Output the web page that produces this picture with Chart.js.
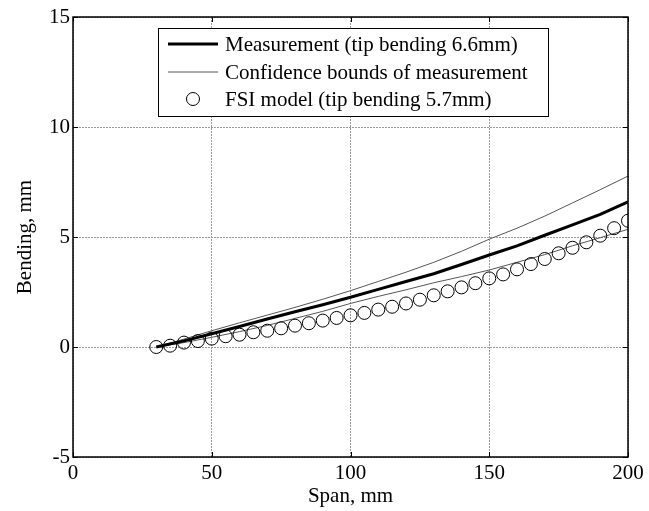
<!DOCTYPE html>
<html>
<head>
<meta charset="utf-8">
<script src="https://cdn.jsdelivr.net/npm/chart.js@4/dist/chart.umd.min.js"></script>
<style>
  html, body { margin: 0; padding: 0; background: #fff; }
  #wrap { width: 649px; height: 511px; }
</style>
</head>
<body>
<div id="wrap"><canvas id="chart" width="649" height="511"></canvas></div>
<script>
// measurement curves, sampled every 10 mm of span
const spans = [30, 40, 50, 60, 70, 80, 90, 100, 110, 120, 130, 140, 150, 160, 170, 180, 190, 200];
const measured = [0, 0.28, 0.60, 0.93, 1.27, 1.60, 1.92, 2.26, 2.62, 2.98, 3.33, 3.75, 4.18, 4.60, 5.08, 5.55, 6.03, 6.60];
const upperBound = [0, 0.36, 0.74, 1.10, 1.45, 1.80, 2.17, 2.56, 2.98, 3.40, 3.85, 4.35, 4.90, 5.40, 5.95, 6.55, 7.15, 7.77];
const lowerBound = [0, 0.20, 0.44, 0.70, 0.98, 1.30, 1.62, 1.98, 2.30, 2.60, 2.92, 3.20, 3.50, 3.85, 4.20, 4.60, 4.97, 5.35];

// FSI model points, every 5 mm
const fsiSpans = [30, 35, 40, 45, 50, 55, 60, 65, 70, 75, 80, 85, 90, 95, 100, 105, 110, 115,
                  120, 125, 130, 135, 140, 145, 150, 155, 160, 165, 170, 175, 180, 185, 190, 195, 200];
const fsiBending = [0, 0.06, 0.20, 0.27, 0.38, 0.49, 0.56, 0.67, 0.74, 0.85, 0.97, 1.08, 1.20, 1.32, 1.44, 1.55, 1.70, 1.83,
                    1.98, 2.15, 2.35, 2.53, 2.71, 2.90, 3.12, 3.30, 3.53, 3.77, 4.00, 4.26, 4.51, 4.76, 5.06, 5.40, 5.74];

const xTicks = [0, 50, 100, 150, 200];
const yTicks = [-5, 0, 5, 10, 15];

const labels = ['Measurement (tip bending 6.6mm)', 'Confidence bounds of measurement', 'FSI model (tip bending 5.7mm)'];

const serif = '"Liberation Serif", "Times New Roman", serif';

function pts(xs, ys) {
    return xs.map((x, i) => ({ x: x, y: ys[i] }));
}

// frame, inward ticks and boxed legend, drawn MATLAB style
const matlabBits = {
    id: 'matlabBits',
    afterDatasetsDraw(chart) {
        const ctx = chart.ctx;
        const a = chart.chartArea;
        const xs = chart.scales.x, ys = chart.scales.y;
        ctx.save();
        ctx.strokeStyle = '#000';
        ctx.lineWidth = 1;
        ctx.beginPath();
        xTicks.forEach(v => {
            const px = Math.round(xs.getPixelForValue(v)) + 0.5;
            ctx.moveTo(px, a.bottom); ctx.lineTo(px, a.bottom - 5);
            ctx.moveTo(px, a.top); ctx.lineTo(px, a.top + 5);
        });
        yTicks.forEach(v => {
            const py = Math.round(ys.getPixelForValue(v)) + 0.5;
            ctx.moveTo(a.left, py); ctx.lineTo(a.left + 5, py);
            ctx.moveTo(a.right, py); ctx.lineTo(a.right - 5, py);
        });
        ctx.stroke();
        ctx.lineWidth = 1.5;
        ctx.strokeRect(a.left, a.top, a.right - a.left, a.bottom - a.top);

        // legend
        const bx = 158, by = 28, bw = 390, bh = 88;
        ctx.fillStyle = '#fff';
        ctx.fillRect(bx, by, bw, bh);
        ctx.lineWidth = 1;
        ctx.strokeRect(bx + 0.5, by + 0.5, bw, bh);
        const rows = [44, 72, 99];
        const ds = chart.data.datasets;
        const entries = [ds[0], ds[1], ds[3]];
        ctx.font = '21px ' + serif;
        ctx.textBaseline = 'middle';
        entries.forEach((d, i) => {
            const y = rows[i];
            if (d.showLine) {
                ctx.strokeStyle = d.borderColor;
                ctx.lineWidth = d.borderWidth;
                ctx.beginPath();
                ctx.moveTo(168, y); ctx.lineTo(218, y);
                ctx.stroke();
            } else {
                ctx.strokeStyle = d.borderColor;
                ctx.lineWidth = 1;
                ctx.beginPath();
                ctx.arc(193, y, d.pointRadius, 0, Math.PI * 2);
                ctx.stroke();
            }
            ctx.fillStyle = '#000';
            ctx.fillText(labels[i], 225, y + 1);
        });
        ctx.restore();
    }
};

const config = {
    type: 'scatter',
    data: {
        datasets: [
            {
                label: labels[0],
                data: pts(spans, measured),
                showLine: true,
                borderColor: '#000',
                borderWidth: 3,
                pointRadius: 0,
                order: 1
            },
            {
                label: labels[1],
                data: pts(spans, upperBound),
                showLine: true,
                borderColor: '#555',
                borderWidth: 1,
                pointRadius: 0,
                order: 2
            },
            {
                label: labels[1],
                data: pts(spans, lowerBound),
                showLine: true,
                borderColor: '#555',
                borderWidth: 1,
                pointRadius: 0,
                order: 2
            },
            {
                label: labels[2],
                data: pts(fsiSpans, fsiBending),
                showLine: false,
                pointStyle: 'circle',
                pointRadius: 6.5,
                borderColor: '#000',
                borderWidth: 1,
                backgroundColor: 'rgba(0,0,0,0)',
                order: 0
            }
        ]
    },
    options: {
        responsive: false,
        animation: false,
        layout: { padding: { left: 0, right: 21, top: 17, bottom: 0 } },
        plugins: {
            legend: { display: false },
            tooltip: { enabled: false }
        },
        scales: {
            x: {
                type: 'linear',
                min: 0,
                max: 200,
                afterBuildTicks: s => { s.ticks = xTicks.map(v => ({ value: v })); },
                afterFit: s => { s.height = 54; },
                grid: { color: '#9a9a9a', lineWidth: 1, drawTicks: false },
                border: { display: false, dash: [2, 1] },
                ticks: { color: '#000', padding: 4, font: { family: serif, size: 21 }, maxRotation: 0 },
                title: { display: true, text: 'Span, mm', color: '#000', padding: { top: 0, bottom: 2 }, font: { family: serif, size: 21 } }
            },
            y: {
                type: 'linear',
                min: -5,
                max: 15,
                afterBuildTicks: s => { s.ticks = yTicks.map(v => ({ value: v })); },
                afterFit: s => { s.width = 73; },
                grid: { color: '#9a9a9a', lineWidth: 1, drawTicks: false },
                border: { display: false, dash: [2, 1] },
                ticks: { color: '#000', padding: 3, font: { family: serif, size: 21 } },
                title: { display: true, text: 'Bending, mm', color: '#000', padding: { top: 13, bottom: 0 }, font: { family: serif, size: 21 } }
            }
        }
    },
    plugins: [matlabBits]
};

var chart = new Chart(document.getElementById('chart'), config);
</script>
</body>
</html>
